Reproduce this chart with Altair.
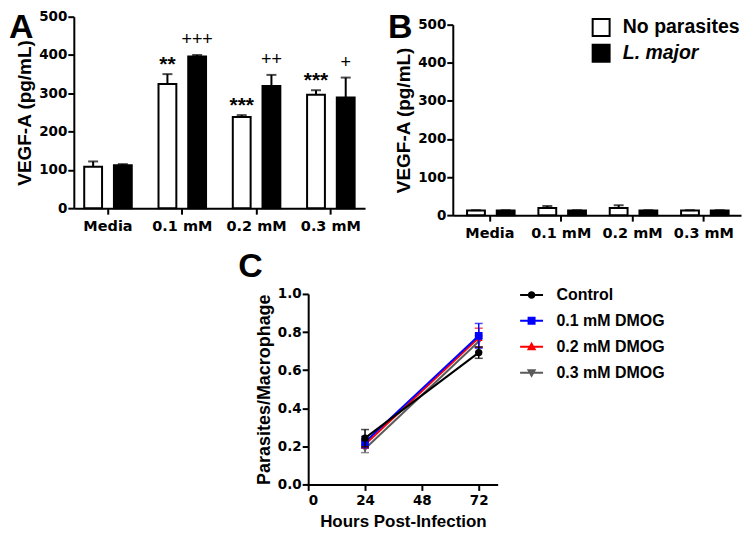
import altair as alt
import pandas as pd

SANS = "Liberation Sans, Arial, sans-serif"
WIDE = "DejaVu Sans, Verdana, sans-serif"

# ---------------- data ----------------
conditions = ["Media", "0.1 mM", "0.2 mM", "0.3 mM"]
groups = ["No parasites", "L. major"]
group_fills = ["white", "black"]

a_none_mean = [108, 324, 238, 296]
a_none_err = [14, 26, 5, 12]
a_none_sig = ["", "**", "***", "***"]
a_lmaj_mean = [112, 396, 319, 289]
a_lmaj_err = [3, 4, 29, 52]
a_lmaj_sig = ["", "+++", "++", "+"]

b_none_mean = [12, 19, 19, 12]
b_none_err = [1, 5, 7, 1]
b_none_sig = ["", "", "", ""]
b_lmaj_mean = [12, 12, 12, 12]
b_lmaj_err = [1, 1, 1, 1]
b_lmaj_sig = ["", "", "", ""]

hours = [24, 72]
series = ["Control", "0.1 mM DMOG", "0.2 mM DMOG", "0.3 mM DMOG"]
series_colors = ["#000000", "#0000ff", "#ff0000", "#5a5a5a"]
series_shapes = ["circle", "square", "triangle-up", "triangle-down"]
series_sizes = [55, 60, 60, 60]
c_control_mean = [0.243, 0.692]
c_control_err = [0.045, 0.03]
c_01_mean = [0.222, 0.780]
c_01_err = [0.03, 0.065]
c_02_mean = [0.210, 0.770]
c_02_err = [0.02, 0.05]
c_03_mean = [0.187, 0.750]
c_03_err = [0.02, 0.03]

# legend glyphs: short line with a marker in the middle
_bar = "M-2.3,-0.2H2.3V0.2H-2.3Z "
legend_paths = [
    _bar + "M-0.75,0A0.75,0.75 0 1,1 0.75,0A0.75,0.75 0 1,1 -0.75,0Z",
    _bar + "M-0.8,-0.8H0.8V0.8H-0.8Z",
    _bar + "M0,-1L0.95,0.7H-0.95Z",
    _bar + "M-0.95,-0.7H0.95L0,1Z",
]


def bar_frame(m1, e1, s1, m2, e2, s2):
    rows = []
    for i, c in enumerate(conditions):
        rows.append({"condition": c, "group": groups[0], "mean": m1[i], "hi": m1[i] + e1[i], "sig": s1[i]})
        rows.append({"condition": c, "group": groups[1], "mean": m2[i], "hi": m2[i] + e2[i], "sig": s2[i]})
    return pd.DataFrame(rows)


a_df = bar_frame(a_none_mean, a_none_err, a_none_sig, a_lmaj_mean, a_lmaj_err, a_lmaj_sig)
b_df = bar_frame(b_none_mean, b_none_err, b_none_sig, b_lmaj_mean, b_lmaj_err, b_lmaj_sig)

c_rows = []
for s, m, e in zip(series, [c_control_mean, c_01_mean, c_02_mean, c_03_mean],
                   [c_control_err, c_01_err, c_02_err, c_03_err]):
    for h, mv, ev in zip(hours, m, e):
        c_rows.append({"series": s, "hour": h, "mean": mv, "lo": mv - ev, "hi": mv + ev})
c_df = pd.DataFrame(c_rows)


def letter_layer(letter, dx, dy):
    return alt.Chart(pd.DataFrame({"letter": [letter]})).mark_text(
        align="left", baseline="top", font=SANS, fontSize=34, fontWeight="bold", color="black"
    ).encode(x=alt.value(dx), y=alt.value(dy), text="letter:N")


def axis_common(**kw):
    base = dict(domainColor="black", domainWidth=2, tickColor="black", tickWidth=2, tickSize=6,
                labelColor="black", labelFontWeight="bold", titleColor="black", titleFont=SANS,
                titleFontWeight="bold", grid=False, labelOverlap=False)
    base.update(kw)
    return alt.Axis(**base)


def bar_panel(df, letter, legend, width, height, y_range, pad_outer):
    y_title = "VEGF-A (pg/mL)"
    yscale = alt.Scale(domain=[0, 500], nice=False, range=y_range)
    yaxis = axis_common(values=[0, 100, 200, 300, 400, 500], labelFont=WIDE, labelFontSize=13.5,
                        labelPadding=1, titleFontSize=19, titlePadding=4)
    xaxis = axis_common(labelAngle=0, labelFont=WIDE, labelFontSize=14.5, labelPadding=5)
    xs = alt.X("condition:N", sort=conditions, title=None,
               scale=alt.Scale(domain=conditions, paddingInner=0.36, paddingOuter=pad_outer), axis=xaxis)
    xo = alt.XOffset("group:N", sort=groups, scale=alt.Scale(domain=groups, paddingInner=0.4))

    def yq(field):
        return alt.Y(field, scale=yscale, axis=yaxis, title=y_title)

    base = alt.Chart(df)
    bars = base.mark_bar(stroke="black", strokeWidth=2).encode(
        x=xs, xOffset=xo, y=yq("mean:Q"),
        fill=alt.Fill("group:N", scale=alt.Scale(domain=groups, range=group_fills), legend=legend),
    )
    err = base.mark_rule(color="black", strokeWidth=2).encode(x=xs, xOffset=xo, y=yq("mean:Q"), y2="hi:Q")
    caps = base.mark_tick(color="black", thickness=2, size=10, orient="horizontal").encode(
        x=xs, xOffset=xo, y=yq("hi:Q"))
    stars = base.transform_filter(alt.datum.group == groups[0]).mark_text(
        font=SANS, fontSize=21, fontWeight="bold", baseline="bottom", dy=1, color="black"
    ).encode(x=xs, xOffset=xo, y=yq("hi:Q"), text="sig:N")
    plusses = base.transform_filter(alt.datum.group == groups[1]).mark_text(
        font=SANS, fontSize=18, baseline="bottom", dy=-6, color="black"
    ).encode(x=xs, xOffset=xo, y=yq("hi:Q"), text="sig:N")
    return alt.layer(bars, err, caps, stars, plusses, letter_layer(letter, -65, -6)).properties(
        width=width, height=height)


b_legend = alt.Legend(
    title=None, orient="none", legendX=139, legendY=1, direction="vertical",
    symbolType="square", symbolSize=289, symbolStrokeColor="black", symbolStrokeWidth=2,
    labelFont=SANS, labelFontSize=19.5, labelFontWeight="bold", labelColor="black",
    labelOffset=12, rowPadding=0, padding=0,
    labelFontStyle=alt.ExprRef(expr="datum.label == 'L. major' ? 'italic' : 'normal'"),
)

panel_a = bar_panel(a_df, "A", None, 292, 192, [192, 0], 0.14)
panel_b = bar_panel(b_df, "B", b_legend, 289, 199, [199, 8], 0.2)

# ---------------- panel C ----------------
c_x = alt.X("hour:Q", scale=alt.Scale(domain=[0, 80], nice=False), title="Hours Post-Infection",
            axis=axis_common(values=[0, 24, 48, 72], labelFont=WIDE, labelFontSize=13.5, labelPadding=3,
                             titleFontSize=17, titlePadding=7))
c_ytitle = "Parasites/Macrophage"
c_yscale = alt.Scale(domain=[0, 1], nice=False)
c_yaxis = axis_common(values=[0, 0.2, 0.4, 0.6, 0.8, 1.0], format=".1f", labelFont=WIDE,
                      labelFontSize=13.5, labelPadding=1, titleFontSize=18, titlePadding=4)


def cy(field):
    return alt.Y(field, scale=c_yscale, axis=c_yaxis, title=c_ytitle)


c_base = alt.Chart(c_df)

c_legend = alt.Legend(
    title=None, orient="none", legendX=216, legendY=-7, direction="vertical",
    symbolSize=100, symbolStrokeWidth=0, symbolOpacity=1,
    labelFont=SANS, labelFontSize=16, labelFontWeight="bold", labelColor="black",
    labelOffset=17, rowPadding=10, padding=0,
)

c_layers = []
# draw the last series first so that Control ends up on top
for s, col, shp, sz in reversed(list(zip(series, series_colors, series_shapes, series_sizes))):
    sb = c_base.transform_filter(alt.datum.series == s)
    c_layers += [
        sb.mark_line(color=col, strokeWidth=2).encode(x=c_x, y=cy("mean:Q")),
        sb.mark_rule(color=col, strokeWidth=1.5).encode(x=c_x, y=cy("lo:Q"), y2="hi:Q"),
        sb.mark_tick(color=col, thickness=1.5, size=8, orient="horizontal").encode(x=c_x, y=cy("hi:Q")),
        sb.mark_tick(color=col, thickness=1.5, size=8, orient="horizontal").encode(x=c_x, y=cy("lo:Q")),
        sb.mark_point(color=col, filled=True, shape=shp, size=sz, opacity=1).encode(x=c_x, y=cy("mean:Q")),
    ]
c_layers.append(
    c_base.mark_point(filled=True, opacity=0).encode(
        x=c_x, y=cy("mean:Q"),
        color=alt.Color("series:N", scale=alt.Scale(domain=series, range=series_colors), legend=c_legend),
        shape=alt.Shape("series:N", scale=alt.Scale(domain=series, range=legend_paths), legend=c_legend),
    )
)
c_layers.append(letter_layer("C", -70, -44))
panel_c = alt.layer(*c_layers).properties(width=190, height=191)

# empty spacer that pushes panel C to the right
spacer = alt.Chart(pd.DataFrame({"s": [0]})).mark_point(opacity=0, size=1).encode(
    x=alt.value(0), y=alt.value(0)).properties(width=1, height=1)

top_row = alt.hconcat(panel_a, panel_b, spacing=21).resolve_scale(fill="independent")
bottom_row = alt.hconcat(spacer, panel_c, spacing=162).resolve_scale(color="independent", shape="independent")
chart = (
    alt.vconcat(top_row, bottom_row, spacing=9)
    .resolve_scale(fill="independent", color="independent", shape="independent")
    .properties(padding=0)
    .configure_view(stroke="transparent")
)

chart.save("out.html", embed_options={"renderer": "svg", "actions": False})
